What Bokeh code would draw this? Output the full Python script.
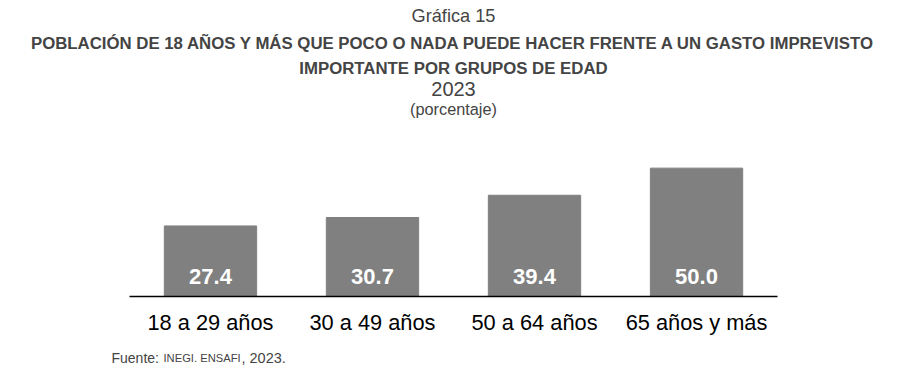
from bokeh.plotting import figure
from bokeh.models import Title, Label, FactorRange, ColumnDataSource, Range1d
from bokeh.core.properties import value
from bokeh.embed import file_html
from bokeh.resources import INLINE

categories = ["18 a 29 años", "30 a 49 años", "50 a 64 años", "65 años y más"]
values = [27.4, 30.7, 39.4, 50.0]
labels = [f"{v:.1f}" for v in values]

FONT = "Liberation Sans"

src = ColumnDataSource(dict(cat=categories, val=values, lab=labels, base=[0] * len(values)))

p = figure(width=910, height=384,
           x_range=FactorRange(*categories, range_padding=0.796, range_padding_units="absolute"),
           y_range=Range1d(-34.6, 69.8), output_backend="svg", toolbar_location=None,
           min_border_left=0, min_border_right=4, min_border_bottom=0, min_border_top=0,
           title="Gráfica 15")
p.title.align = "center"
p.title.text_font = FONT
p.title.text_font_size = "18.2px"
p.title.text_font_style = "normal"
p.title.standoff = 6
p.title.text_line_height = 1.3

def add_title(text, size, style, standoff):
    t = Title(text=text, align="center", text_font=FONT, text_font_size=size,
              text_font_style=style, standoff=standoff)
    p.add_layout(t, "above")

add_title("(porcentaje)", "16.3px", "normal", 0)
add_title("2023", "20px", "normal", 3)
add_title("IMPORTANTE POR GRUPOS DE EDAD", "16.8px", "bold", 2)
add_title("POBLACIÓN DE 18 AÑOS Y MÁS QUE POCO O NADA PUEDE HACER FRENTE A UN GASTO IMPREVISTO",
          "16.8px", "bold", 6)

p.vbar(x="cat", top="val", width=0.57, source=src, color="#808080")
p.text(x="cat", y="base", text="lab", source=src, text_color="white",
       text_font=value(FONT), text_font_size="22px", text_font_style="bold",
       text_align="center", text_baseline="alphabetic", y_offset=-20)

p.yaxis.visible = False
p.xgrid.visible = False
p.ygrid.visible = False
p.outline_line_color = None
p.xaxis.fixed_location = 0
p.xaxis.bounds = (0, len(categories))
p.xaxis.axis_line_color = "black"
p.xaxis.axis_line_width = 1.5
p.xaxis.major_tick_line_color = None
p.xaxis.minor_tick_line_color = None
p.xaxis.major_label_text_font = FONT
p.xaxis.major_label_text_font_size = "21.8px"
p.xaxis.major_label_text_color = "black"
p.xaxis.major_label_standoff = 8

for x, txt, size in [(111, "Fuente:", "14px"), (163, "INEGI. ENSAFI", "11.2px"), (241, ", 2023.", "14.5px")]:
    p.add_layout(Label(x=x, y=27, x_units="screen", y_units="screen", text=txt,
                       text_font=FONT, text_font_size=size, text_baseline="alphabetic"))

open("out.html", "w").write(file_html(p, INLINE))
